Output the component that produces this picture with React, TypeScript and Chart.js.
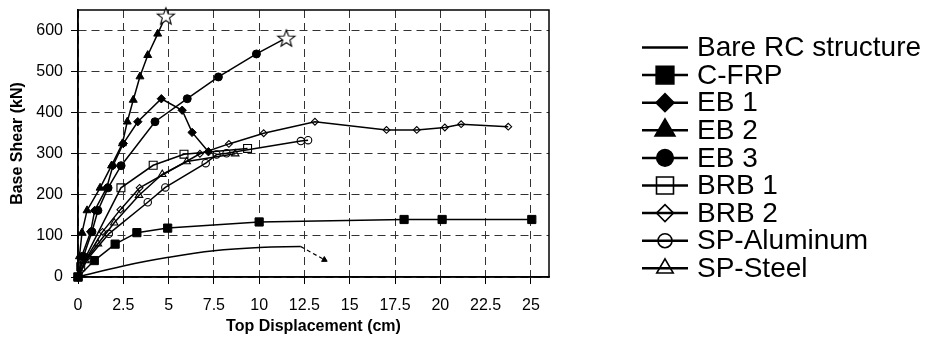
import React, { useEffect, useRef } from 'react';
import { Chart, registerables } from 'chart.js';
import { drawPoint } from 'chart.js/helpers';

Chart.register(...registerables);

type P = [number, number];

// ---- data (displacement cm, base shear kN) ----
const seriesNames = ['Bare RC structure', 'C-FRP', 'EB 1', 'EB 2', 'EB 3', 'BRB 1', 'BRB 2', 'SP-Aluminum', 'SP-Steel'];

const bareRC: P[] = [[0, 0], [2.5, 27], [5, 48], [7.5, 64], [10, 72], [12.3, 74]];
const bareRCArrow: P[] = [[12.3, 74], [13.6, 42]];
const cfrp: P[] = [[0, 0], [0.9, 40], [2.05, 80], [3.25, 108], [4.95, 119], [10, 134], [18, 140], [20.1, 140], [25.05, 140]];
const eb1: P[] = [[0, 0], [0.2, 50], [0.7, 110], [0.92, 162], [1.58, 217], [1.93, 271], [2.5, 325], [3.3, 378], [4.6, 434], [5.75, 406], [6.3, 352], [7.2, 305]];
const eb2: P[] = [[0, 0], [0.08, 50], [0.22, 108], [0.5, 162], [1.22, 217], [1.85, 271], [2.45, 325], [2.72, 378], [3.05, 431], [3.42, 488], [3.85, 540], [4.4, 592], [4.85, 636]];
const eb3: P[] = [[0, 0], [0.3, 50], [0.77, 110], [1.1, 162], [1.66, 217], [2.38, 271], [4.25, 378], [6.03, 434], [7.75, 487], [9.85, 543], [11.5, 582]];
const brb1: P[] = [[0, 0], [0.15, 25], [2.37, 217], [4.15, 272], [5.85, 299], [9.36, 313]];
const brb2: P[] = [[0, 0], [0.45, 45], [1.35, 110], [2.34, 164], [3.4, 217], [6.73, 300], [8.33, 324], [10.25, 350], [13.08, 378], [17.03, 358], [18.7, 358], [20.25, 364], [21.15, 372], [23.75, 366]];
const spAluminum: P[] = [[0, 0], [0.55, 45], [1.7, 105], [3.85, 182], [4.82, 218], [7.05, 277], [7.65, 298], [8.2, 301], [12.3, 331], [12.7, 333]];
const spSteel: P[] = [[0, 0], [0.4, 40], [1.1, 81], [2.0, 132], [3.37, 199], [4.65, 250], [6.0, 281], [8.68, 300]];

const xTicks = [0, 2.5, 5, 7.5, 10, 12.5, 15, 17.5, 20, 22.5, 25];
const yTicks = [0, 100, 200, 300, 400, 500, 600];

// ---- styles ----
const FONT = "'Liberation Sans', Arial, Helvetica, sans-serif";
type Sty = { style: any; r: number; filled: boolean; lr: number; endStar?: boolean };
const styles: Sty[] = [
  { style: false, r: 0, filled: true, lr: 0 },
  { style: 'rect', r: 5.8, filled: true, lr: 12.5 },
  { style: 'rectRot', r: 4.2, filled: true, lr: 9 },
  { style: 'triangle', r: 4.6, filled: true, lr: 11.5, endStar: true },
  { style: 'circle', r: 4, filled: true, lr: 8.3, endStar: true },
  { style: 'rect', r: 5.6, filled: false, lr: 12 },
  { style: 'rectRot', r: 3.4, filled: false, lr: 8.5 },
  { style: 'circle', r: 3.7, filled: false, lr: 7 },
  { style: 'triangle', r: 4.3, filled: false, lr: 9.5 },
];
const seriesData: P[][] = [bareRC, cfrp, eb1, eb2, eb3, brb1, brb2, spAluminum, spSteel];

function makeStar(R: number): HTMLCanvasElement {
  const c = document.createElement('canvas');
  const s = Math.ceil(R * 2 + 4);
  c.width = s;
  c.height = s;
  const ctx = c.getContext('2d')!;
  const cx = s / 2, cy = s / 2 + 1;
  const r = R * 0.42;
  ctx.beginPath();
  for (let i = 0; i < 10; i++) {
    const a = -Math.PI / 2 + (i * Math.PI) / 5;
    const rr = i % 2 === 0 ? R : r;
    ctx.lineTo(cx + rr * Math.cos(a), cy + rr * Math.sin(a));
  }
  ctx.closePath();
  ctx.fillStyle = '#fff';
  ctx.fill();
  ctx.lineWidth = 1.1;
  ctx.strokeStyle = '#000';
  ctx.stroke();
  return c;
}

const boxPlugin = {
  id: 'plotBox',
  beforeDatasetsDraw(chart: any) {
    const { ctx, chartArea: a } = chart;
    ctx.save();
    ctx.strokeStyle = '#000';
    ctx.lineWidth = 1.5;
    ctx.setLineDash([]);
    ctx.strokeRect(a.left, a.top, a.right - a.left, a.bottom - a.top);
    ctx.restore();
  },
};

const legendPlugin = {
  id: 'customLegend',
  afterDraw(chart: any) {
    const ctx = chart.ctx as CanvasRenderingContext2D;
    ctx.save();
    seriesNames.forEach((name, i) => {
      const y = 47.5 + i * 27.6;
      const st = styles[i];
      ctx.setLineDash([]);
      ctx.strokeStyle = '#000';
      ctx.lineWidth = 2.5;
      ctx.beginPath();
      ctx.moveTo(642, y);
      ctx.lineTo(688, y);
      ctx.stroke();
      if (st.style) {
        ctx.fillStyle = st.filled ? '#000' : 'rgba(0,0,0,0)';
        ctx.lineWidth = 1.6;
        drawPoint(ctx, { pointStyle: st.style, radius: st.lr, rotation: 0, borderWidth: 1.6 } as any, 665, y);
      }
      ctx.fillStyle = '#000';
      ctx.font = `28px ${FONT}`;
      ctx.textBaseline = 'middle';
      ctx.textAlign = 'left';
      ctx.fillText(name, 697, y + 1);
    });
    ctx.restore();
  },
};

export default function App() {
  const ref = useRef<HTMLCanvasElement>(null);
  useEffect(() => {
    const star = makeStar(9);
    const datasets: any[] = seriesData.map((pts, i) => {
      const st = styles[i];
      const n = pts.length;
      const ps = pts.map((_, j) => (st.endStar && j === n - 1 ? star : st.style || 'circle'));
      const pr = pts.map((_, j) => (st.endStar && j === n - 1 ? 9 : st.r));
      return {
        label: seriesNames[i],
        data: pts.map(([x, y]) => ({ x, y })),
        showLine: true,
        borderColor: '#000',
        borderWidth: 1.5,
        tension: i === 0 ? 0.4 : 0,
        pointStyle: ps,
        pointRadius: pr,
        pointHoverRadius: pr,
        pointBackgroundColor: st.filled ? '#000' : 'rgba(0,0,0,0)',
        pointBorderColor: '#000',
        pointBorderWidth: st.filled ? 1 : 1.1,
        clip: false,
        order: -i,
      };
    });
    datasets.push({
      label: 'arrow',
      data: bareRCArrow.map(([x, y]) => ({ x, y })),
      showLine: true,
      borderColor: '#000',
      borderWidth: 1.2,
      borderDash: [4, 3],
      pointStyle: 'triangle',
      pointRadius: [0, 3.2],
      rotation: [0, 119],
      pointBackgroundColor: '#000',
      pointBorderColor: '#000',
      pointBorderWidth: 1,
      clip: false,
      order: 1,
    });

    const chart = new Chart(ref.current!, {
      type: 'scatter',
      data: { datasets },
      options: {
        animation: false,
        responsive: false,
        events: [],
        layout: { padding: { left: 0, right: 381, top: 7, bottom: 0 } },
        plugins: { legend: { display: false }, tooltip: { enabled: false } },
        scales: {
          x: {
            type: 'linear',
            min: 0,
            max: 26,
            afterFit: (s: any) => { s.height = 64; s.paddingLeft = 0; s.paddingRight = 0; },
            afterBuildTicks: (a: any) => { a.ticks = xTicks.map((v) => ({ value: v })); },
            ticks: { font: { family: FONT, size: 16 }, color: '#000', padding: 12, maxRotation: 0, autoSkip: false },
            grid: { color: '#333', lineWidth: 1, tickLength: 7, tickColor: '#000', tickWidth: 1, drawTicks: true },
            border: { display: true, color: '#000', width: 1.5, dash: [8, 5] },
            title: { display: true, text: 'Top Displacement (cm)', color: '#000', font: { family: FONT, size: 16, weight: 'bold' }, padding: { top: 0, bottom: 5 } },
          },
          y: {
            type: 'linear',
            min: 0,
            max: 650,
            afterFit: (s: any) => { s.width = 78; s.paddingTop = 0; s.paddingBottom = 0; },
            afterBuildTicks: (a: any) => { a.ticks = yTicks.map((v) => ({ value: v })); },
            ticks: { font: { family: FONT, size: 16 }, color: '#000', padding: 8, autoSkip: false },
            grid: { color: '#333', lineWidth: 1, tickLength: 7, tickColor: '#000', tickWidth: 1, drawTicks: true },
            border: { display: true, color: '#000', width: 1.5, dash: [8, 5] },
            title: { display: true, text: 'Base Shear (kN)', color: '#000', font: { family: FONT, size: 16, weight: 'bold' }, padding: { top: 8, bottom: 0 } },
          },
        },
      } as any,
      plugins: [boxPlugin, legendPlugin],
    });
    return () => chart.destroy();
  }, []);
  return (
    <div style={{ position: 'absolute', left: 0, top: 0, width: 930, height: 341, background: '#fff' }}>
      <canvas ref={ref} width={930} height={341} style={{ display: 'block' }} />
    </div>
  );
}
